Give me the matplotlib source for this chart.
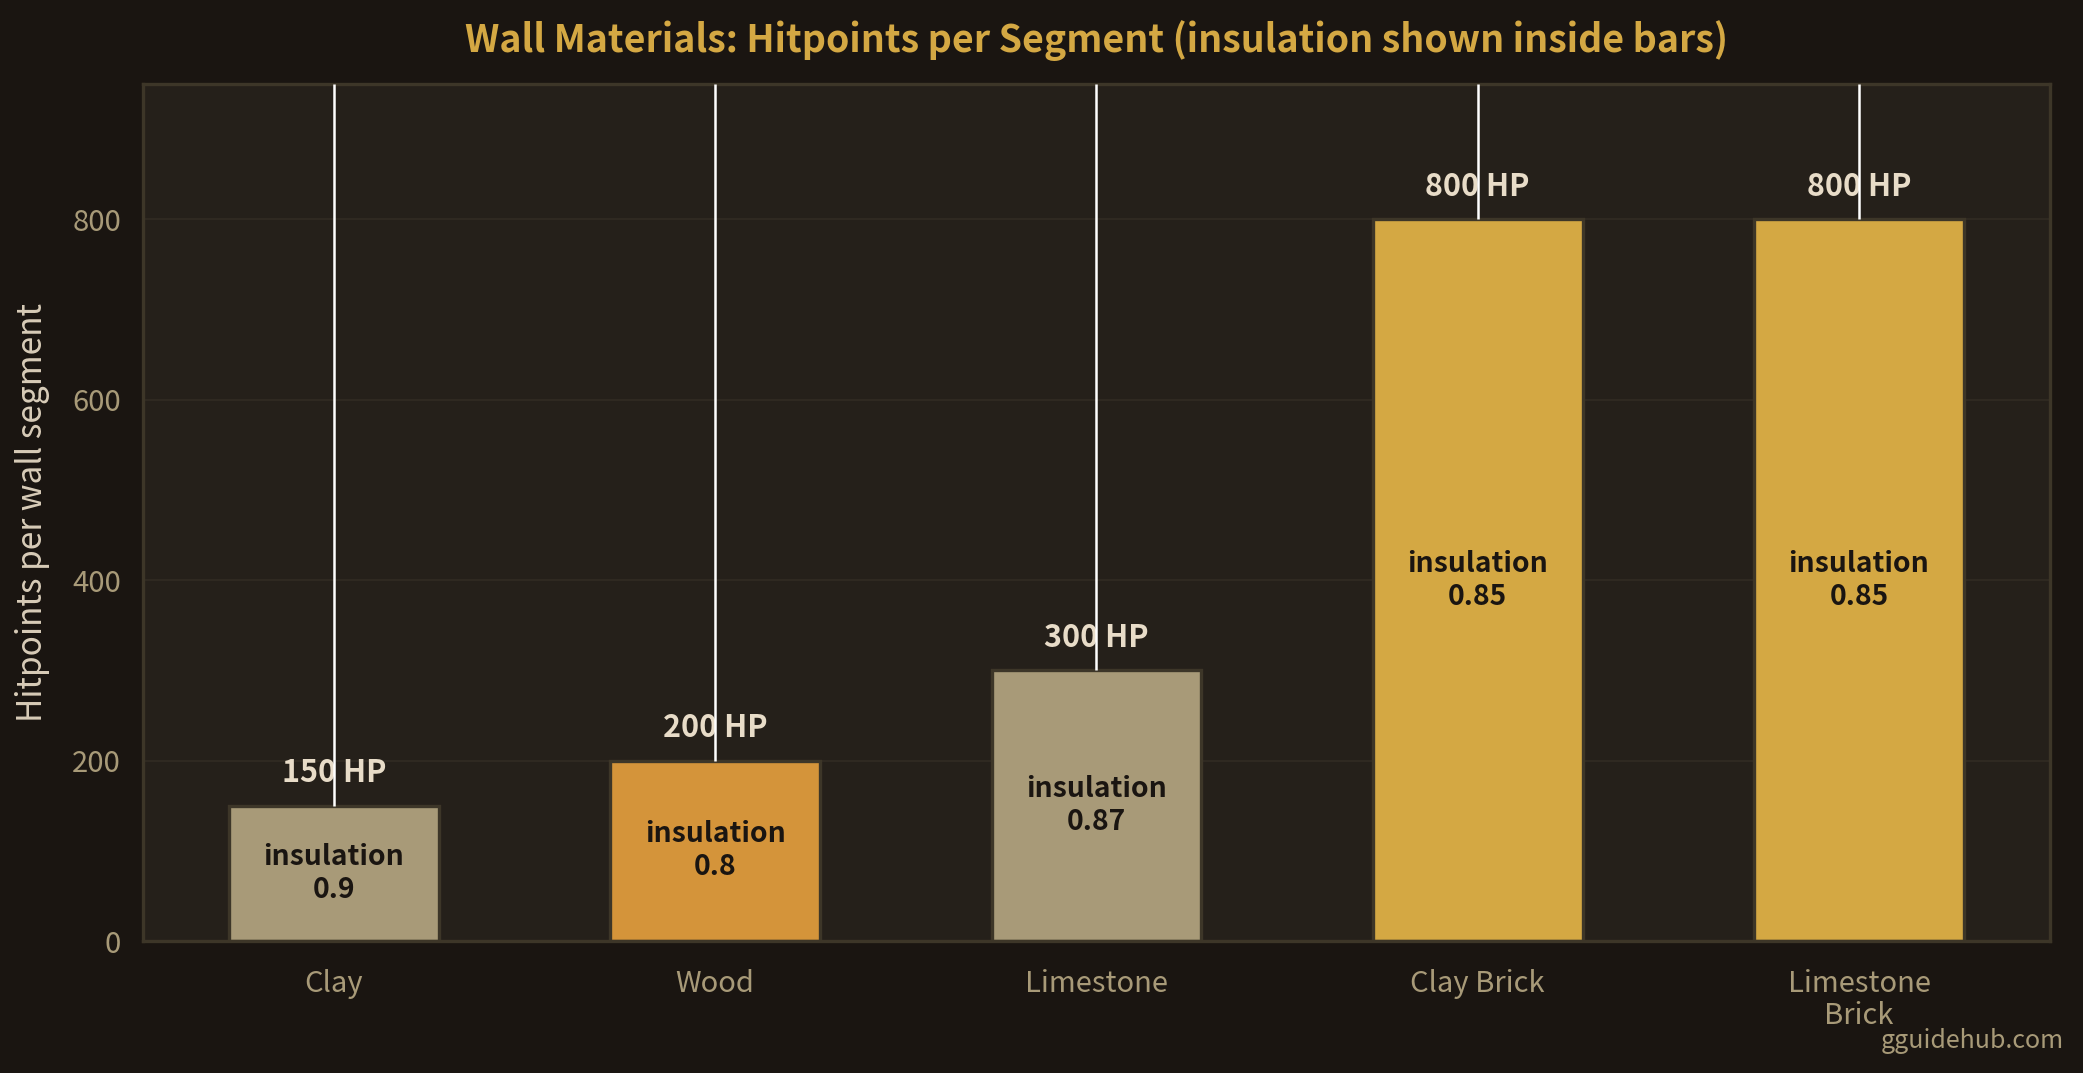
import matplotlib
matplotlib.use("Agg")
import matplotlib.pyplot as plt

plt.rcParams["font.family"] = ["Noto Sans CJK SC", "DejaVu Sans"]

# data
materials = ["Clay", "Wood", "Limestone", "Clay Brick", "Limestone\nBrick"]
hitpoints = [150, 200, 300, 800, 800]
insulation = [0.9, 0.8, 0.87, 0.85, 0.85]
bar_colors = ["#a89a78", "#d4943a", "#a89a78", "#d4a843", "#d4a843"]

FIG_BG = "#1a1511"
AX_BG = "#25201a"
EDGE = "#3d3628"
TICK = "#a89a78"
LIGHT = "#e8dcc8"
GOLD = "#d4a843"

fig = plt.figure(figsize=(10.415, 5.365), dpi=200, facecolor=FIG_BG)
ax = fig.add_axes([0.0687, 0.123, 0.9153, 0.7987])
ax.set_facecolor(AX_BG)

x = list(range(len(materials)))
ax.bar(x, hitpoints, width=0.55, color=bar_colors, edgecolor=EDGE,
       linewidth=1.2, zorder=2)

ax.set_ylim(0, 950)
ax.set_xlim(-0.5, len(materials) - 0.5)

# white lines from bar tops to the top of the plot
ax.vlines(x, hitpoints, ax.get_ylim()[1], color="white", linewidth=0.9, zorder=4)

for xi, hp, ins in zip(x, hitpoints, insulation):
    ax.annotate(f"{hp} HP", (xi, hp), xytext=(0, 6), textcoords="offset points",
                ha="center", va="bottom", fontsize=11, fontweight="semibold",
                color=LIGHT, zorder=3)
    ax.text(xi, hp / 2, f"insulation\n{ins:g}", ha="center", va="center",
            fontsize=10.2, fontweight="semibold", color="#1a1511",
            linespacing=1.22, zorder=3)

ax.set_yticks([0, 200, 400, 600, 800])
ax.set_xticks(x)
ax.set_xticklabels(materials, linespacing=1.1)
ax.tick_params(axis="both", length=0, colors=TICK, labelsize=10.5)
ax.tick_params(axis="x", pad=10)
ax.tick_params(axis="y", pad=8)
ax.grid(axis="y", color="#302a22", linewidth=0.7, zorder=0)
ax.set_axisbelow(True)
for s in ax.spines.values():
    s.set_color(EDGE)
    s.set_linewidth(1.2)

ax.set_ylabel("Hitpoints per wall segment", color="#d8ccb8", fontsize=12, labelpad=8)

# title centred over the axes
ax.text(0.5, 1.0 + 43 / (0.7987 * 1073),
        "Wall Materials: Hitpoints per Segment (insulation shown inside bars)",
        transform=ax.transAxes, ha="center", va="center", fontsize=13.5,
        fontweight="semibold", color=GOLD)
fig.text(0.991, 0.018, "gguidehub.com", ha="right", va="bottom",
         fontsize=9, color=TICK)

fig.savefig("out.png", dpi=200, facecolor=FIG_BG)
